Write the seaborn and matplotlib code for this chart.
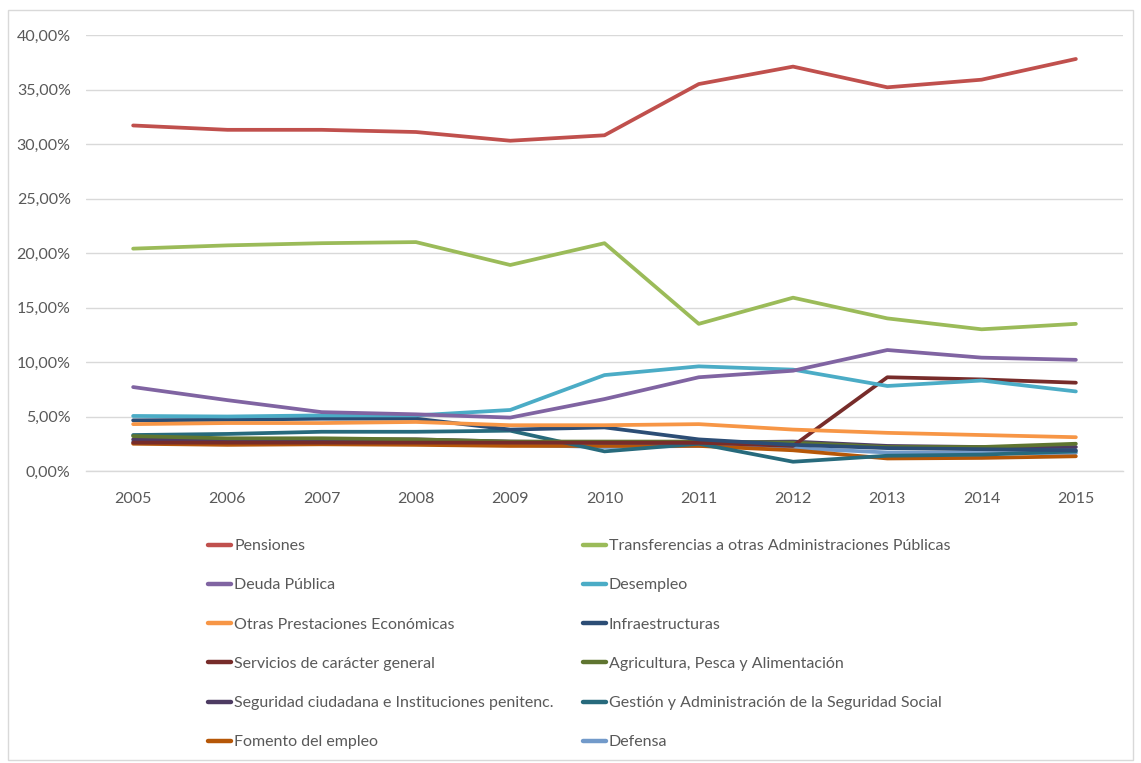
import matplotlib
matplotlib.use("Agg")
import matplotlib.pyplot as plt
import matplotlib.ticker as mticker
from matplotlib.lines import Line2D
from matplotlib.patches import Rectangle
import seaborn as sns
import pandas as pd

years = [2005, 2006, 2007, 2008, 2009, 2010, 2011, 2012, 2013, 2014, 2015]

pensiones = [31.7, 31.3, 31.3, 31.1, 30.3, 30.8, 35.5, 37.1, 35.2, 35.9, 37.8]
transferencias = [20.4, 20.7, 20.9, 21.0, 18.9, 20.9, 13.5, 15.9, 14.0, 13.0, 13.5]
deuda = [7.7, 6.5, 5.4, 5.2, 4.9, 6.6, 8.6, 9.2, 11.1, 10.4, 10.2]
desempleo = [5.05, 5.0, 5.1, 5.1, 5.6, 8.8, 9.6, 9.3, 7.8, 8.3, 7.3]
otras_prestaciones = [4.3, 4.4, 4.4, 4.5, 4.2, 4.2, 4.3, 3.8, 3.5, 3.3, 3.1]
infraestructuras = [4.65, 4.7, 4.8, 4.8, 3.8, 4.0, 2.9, 2.4, 2.1, 2.0, 1.9]
servicios = [2.6, 2.6, 2.6, 2.6, 2.6, 2.6, 2.6, 2.3, 8.6, 8.4, 8.1]
agricultura = [3.2, 3.0, 3.0, 2.9, 2.7, 2.7, 2.7, 2.6, 2.2, 2.2, 2.5]
seguridad = [2.9, 2.9, 2.9, 2.9, 2.7, 2.6, 2.6, 2.7, 2.3, 2.2, 2.2]
gestion = [3.3, 3.4, 3.6, 3.6, 3.7, 1.8, 2.5, 0.85, 1.4, 1.5, 1.8]
fomento = [2.5, 2.4, 2.45, 2.4, 2.3, 2.3, 2.3, 1.9, 1.15, 1.2, 1.35]
defensa = [2.7, 2.65, 2.6, 2.6, 2.4, 2.2, 2.3, 2.1, 1.7, 1.65, 1.65]

series_names = [
    "Pensiones",
    "Transferencias a otras Administraciones Públicas",
    "Deuda Pública",
    "Desempleo",
    "Otras Prestaciones Económicas",
    "Infraestructuras",
    "Servicios de carácter general",
    "Agricultura, Pesca y Alimentación",
    "Seguridad ciudadana e Instituciones penitenc.",
    "Gestión y Administración de la Seguridad Social",
    "Fomento del empleo",
    "Defensa",
]
series_values = [
    pensiones, transferencias, deuda, desempleo, otras_prestaciones,
    infraestructuras, servicios, agricultura, seguridad, gestion,
    fomento, defensa,
]
colors = [
    "#C0504D", "#9BBB59", "#8064A2", "#4BACC6", "#F79646", "#2C4D75",
    "#772C2A", "#5F7530", "#4D3B62", "#276A7C", "#B65708", "#729ACA",
]

rows = []
for name, vals in zip(series_names, series_values):
    for i, (yr, v) in enumerate(zip(years, vals)):
        rows.append({"pos": i, "year": yr, "serie": name, "valor": v})
df = pd.DataFrame(rows)

sns.set_style("white")
plt.rcParams["font.family"] = ["Lato", "DejaVu Sans"]
text_color = "#595959"

fig = plt.figure(figsize=(11.41, 7.63), dpi=100)
ax = fig.add_axes([86 / 1141, 1 - 471 / 763, (1123 - 86) / 1141, (471 - 35) / 763])

palette = dict(zip(series_names, colors))
# draw in reverse so the first series sits on top
sns.lineplot(data=df, x="pos", y="valor", hue="serie", hue_order=series_names[::-1],
             palette=palette, linewidth=2.7, ax=ax, legend=False, sort=False)

ax.set_xlim(-0.5, len(years) - 0.5)
ax.set_ylim(0, 40)
ax.set_xticks(range(len(years)))
ax.set_xticklabels([str(y) for y in years])
ax.set_yticks(range(0, 41, 5))
ax.yaxis.set_major_formatter(mticker.FuncFormatter(lambda v, p: f"{v:.2f}%".replace(".", ",")))
ax.tick_params(axis="both", length=0, labelsize=11.5, colors=text_color)
ax.tick_params(axis="y", pad=11)
ax.tick_params(axis="x", pad=15)
ax.grid(axis="y", color="#D9D9D9", linewidth=1)
ax.set_axisbelow(True)
for side in ["top", "left", "right"]:
    ax.spines[side].set_visible(False)
ax.spines["bottom"].set_color("#D9D9D9")
ax.spines["bottom"].set_linewidth(1)
ax.set_xlabel("")
ax.set_ylabel("")

# legend: two columns, filled row by row
handles = [Line2D([], [], color=c, linewidth=3.2) for c in colors]
order = list(range(0, 12, 2)) + list(range(1, 12, 2))
leg = fig.legend([handles[i] for i in order], [series_names[i] for i in order],
                 ncol=2, loc="upper left", bbox_to_anchor=(208 / 1141, 1 - 539 / 763),
                 frameon=False, fontsize=11.5, handlelength=1.45, handletextpad=0.2,
                 columnspacing=1.8, labelspacing=1.57, borderaxespad=0, borderpad=0)
for t in leg.get_texts():
    t.set_color(text_color)

fig.patches.append(Rectangle((8 / 1141, 1 - 760 / 763), 1125 / 1141, 750 / 763,
                             transform=fig.transFigure, fill=False,
                             edgecolor="#D9D9D9", linewidth=1))

fig.savefig("out.png", dpi=100)
